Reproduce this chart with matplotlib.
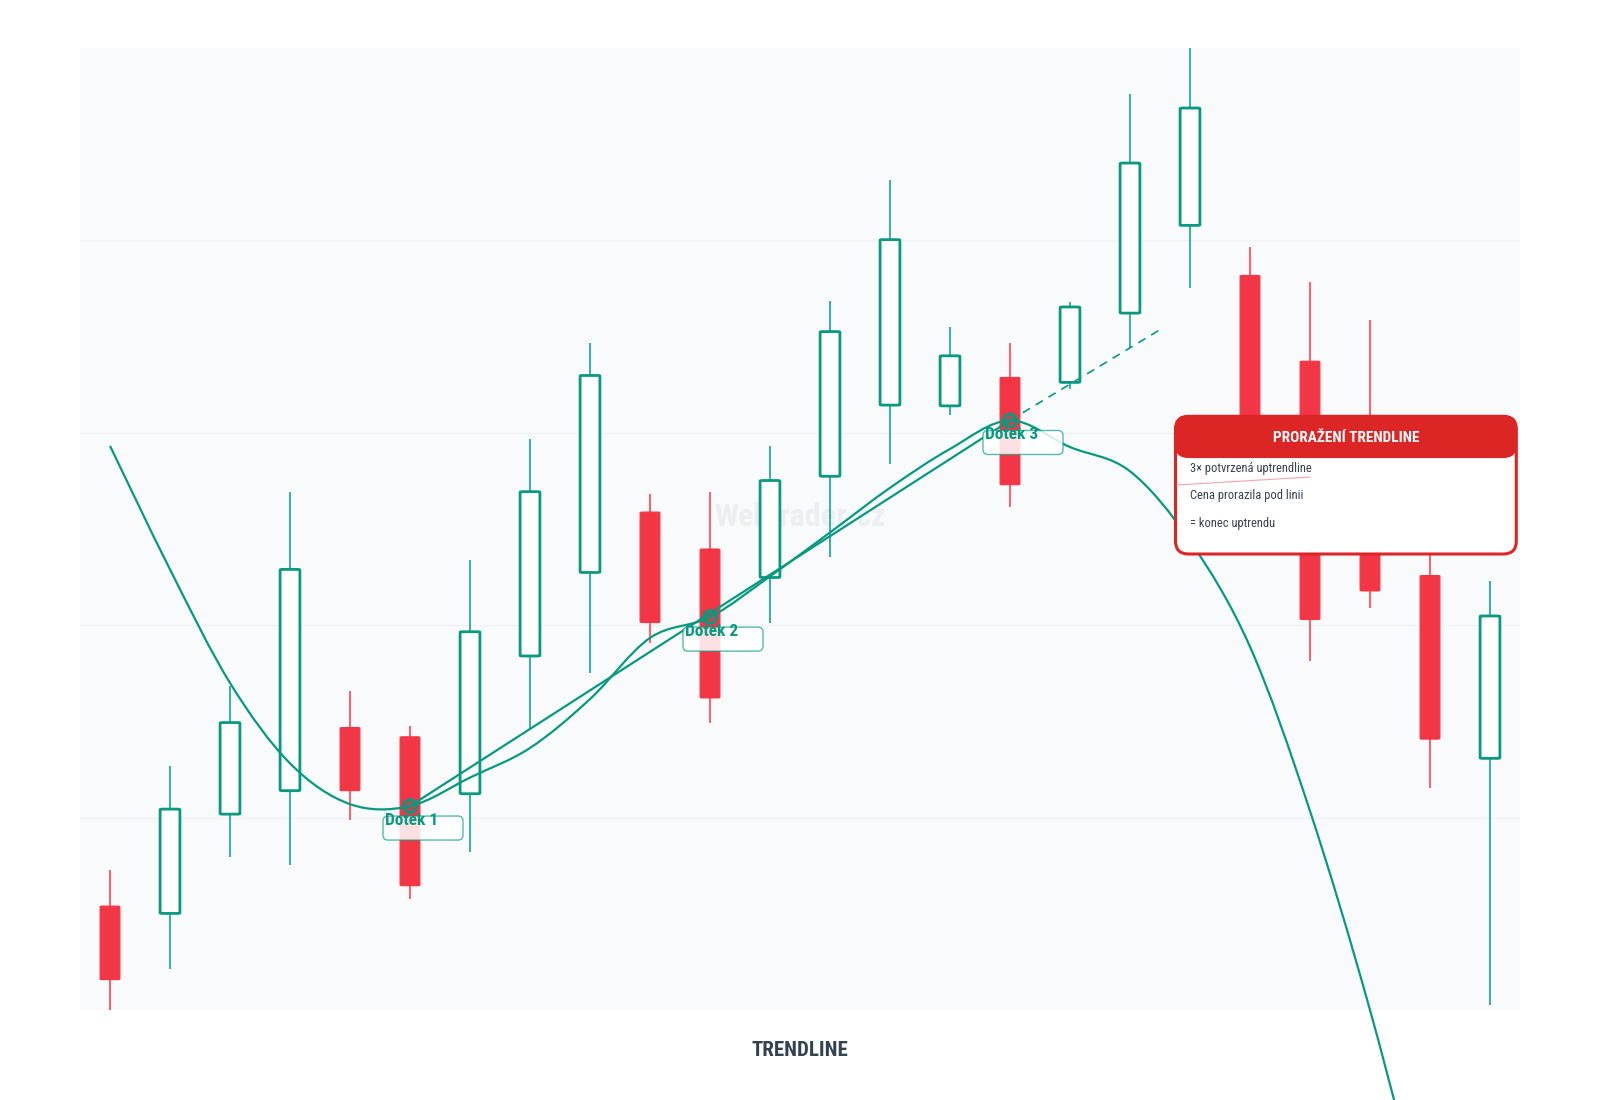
import matplotlib
matplotlib.use("Agg")
import matplotlib.pyplot as plt
from matplotlib import font_manager
from matplotlib.patches import FancyBboxPatch, Circle
from matplotlib.path import Path
from matplotlib.patches import PathPatch
from matplotlib.transforms import IdentityTransform

# --- data ---
idx = list(range(24))
opens = [102.70, 102.51, 105.09, 105.70, 107.34, 107.10, 105.62, 109.20, 111.37, 112.94,
         111.98, 111.24, 113.87, 115.72, 115.70, 116.44, 116.31, 118.11, 120.39, 119.09,
         116.86, 113.50, 111.29, 106.54]
highs = [103.63, 106.33, 108.43, 113.47, 108.30, 107.37, 111.69, 114.85, 117.34, 113.41,
         113.47, 114.66, 118.43, 121.56, 117.76, 117.34, 118.40, 123.81, 125.60, 119.84,
         118.93, 117.93, 112.90, 111.15]
lows = [100.00, 101.06, 103.97, 103.76, 104.95, 102.89, 104.11, 107.29, 108.77, 109.54,
        107.47, 110.05, 111.77, 114.18, 115.46, 113.07, 116.15, 117.21, 118.77, 112.40,
        109.06, 110.44, 105.76, 100.13]
closes = [100.79, 105.22, 107.47, 111.45, 105.70, 103.23, 109.83, 113.47, 116.49, 110.07,
          108.11, 113.76, 117.63, 120.02, 117.00, 113.65, 118.27, 122.01, 123.44, 113.20,
          110.15, 110.89, 107.04, 110.24]

# smooth curve control points
curve_x = list(range(23))
curve_y = [114.66, 111.45, 108.50, 106.41, 105.35, 105.30, 106.04, 106.81, 108.08, 109.67,
           110.21, 111.27, 112.41, 113.57, 114.58, 115.32, 114.63, 114.00, 112.19, 109.44,
           105.17, 100.00, 94.03]

touch_x = [5, 10, 15]
touch_y = [105.30, 110.21, 115.32]
touch_labels = ["Dotek 1", "Dotek 2", "Dotek 3"]
ext_x, ext_y = 17.5, 117.68

callout_title = "PRORAŽENÍ TRENDLINE"
callout_lines = ["3× potvrzená uptrendline", "Cena prorazila pod linii", "= konec uptrendu"]

GREEN = "#089981"
RED = "#f23645"
BOXRED = "#dc2626"
TEXT = "#374151"

# pick the narrowest font that is installed
entries = font_manager.fontManager.ttflist
names = {f.name for f in entries}
FONT, STRETCH = "DejaVu Sans", "condensed"
for cand in ["Roboto Condensed", "Noto Sans ExtraCondensed", "Noto Sans Condensed",
             "Open Sans Condensed", "Liberation Sans Narrow"]:
    if cand in names:
        FONT, STRETCH = cand, "normal"
        break
else:
    for f in entries:
        if f.name in ("Noto Sans", "Roboto", "Open Sans") and f.stretch in ("extra-condensed", "condensed"):
            FONT, STRETCH = f.name, f.stretch
            break
plt.rcParams["font.family"] = [FONT, "DejaVu Sans"]

fig = plt.figure(figsize=(16, 11), dpi=100)
ax = fig.add_axes([0.05, 1 - 1010 / 1100, 0.90, 962 / 1100])
ax.set_facecolor("#f8fafc")
ax.set_xlim(-0.5, 23.5)
ax.set_ylim(100, 125)
ax.set_yticks([105, 110, 115, 120])
ax.set_xticks([])
ax.tick_params(left=False, labelleft=False)
ax.grid(axis="y", color="#eef2f6", lw=1)
ax.set_axisbelow(True)
for s in ax.spines.values():
    s.set_visible(False)

# candles
bw = 0.33
for i, o, h, l, c in zip(idx, opens, highs, lows, closes):
    up = c >= o
    col = GREEN if up else RED
    ax.plot([i, i], [l, h], color=col, lw=1.5, alpha=0.75, zorder=2, solid_capstyle="butt")
    lo, hi = min(o, c), max(o, c)
    body = FancyBboxPatch((i - bw / 2, lo), bw, hi - lo,
                          boxstyle="round,pad=0,rounding_size=0.04", mutation_aspect=0.4,
                          facecolor="white" if up else RED,
                          edgecolor=col, lw=2 if up else 0.8, zorder=3)
    ax.add_patch(body)

# smooth curve (catmull-rom rendered as bezier path)
pts = list(zip(curve_x, curve_y))
verts = [pts[0]]
codes = [Path.MOVETO]
for k in range(len(pts) - 1):
    p0 = pts[k - 1] if k > 0 else pts[k]
    p1, p2 = pts[k], pts[k + 1]
    p3 = pts[k + 2] if k + 2 < len(pts) else pts[k + 1]
    c1 = (p1[0] + (p2[0] - p0[0]) / 6, p1[1] + (p2[1] - p0[1]) / 6)
    c2 = (p2[0] - (p3[0] - p1[0]) / 6, p2[1] - (p3[1] - p1[1]) / 6)
    verts += [c1, c2, p2]
    codes += [Path.CURVE4] * 3
ax.add_patch(PathPatch(Path(verts, codes), facecolor="none", edgecolor=GREEN,
                       lw=1.6, zorder=5, clip_on=False))

# trendline
ax.plot([touch_x[0], touch_x[-1]], [touch_y[0], touch_y[-1]], color=GREEN, lw=1.6, zorder=5)
ax.plot([touch_x[-1], ext_x], [touch_y[-1], ext_y], color=GREEN, lw=1.2, ls=(0, (5, 4)), zorder=5)

fig.canvas.draw()
ID = IdentityTransform()


def px(x, y):
    # data -> display pixels
    return ax.transData.transform((x, y))


for tx, ty, lab in zip(touch_x, touch_y, touch_labels):
    X, Y = px(tx, ty)
    fig.patches.append(Circle((X, Y), 6.5, transform=ID, facecolor=GREEN + "40",
                              edgecolor=GREEN, lw=2, zorder=6))
    fig.patches.append(FancyBboxPatch((X - 27, Y - 34), 80, 24, transform=ID,
                                      boxstyle="round,pad=0,rounding_size=5",
                                      facecolor=(1, 1, 1, 0.85), edgecolor=GREEN + "aa",
                                      lw=1, zorder=7))
    fig.text((X - 25) / 1600, (Y - 14) / 1100, lab, color=GREEN, fontsize=12.5,
             fontweight="bold", fontstretch=STRETCH, va="center", ha="left", zorder=8)

# watermark
ax.text(0.5, 0.512, "Webtrader.cz", transform=ax.transAxes, ha="center", va="center",
        fontsize=23, fontweight="bold", fontstretch=STRETCH, color="#e5e7eb", alpha=0.6, zorder=1)

# callout box (pixel coords from top-left)
H = 1100
bx0, bx1, by0, by1, hy = 1175.5, 1516.3, 416.3, 554.0, 457.0
fig.patches.append(FancyBboxPatch((bx0, H - by1), bx1 - bx0, by1 - by0, transform=ID,
                                  boxstyle="round,pad=0,rounding_size=13",
                                  facecolor="white", edgecolor=BOXRED, lw=2.2, zorder=20))
fig.patches.append(FancyBboxPatch((bx0, H - hy), bx1 - bx0, hy - by0, transform=ID,
                                  boxstyle="round,pad=0,rounding_size=13",
                                  facecolor=BOXRED, edgecolor=BOXRED, lw=1.5, zorder=21))
fig.lines.append(plt.Line2D([1177 / 1600, 1310 / 1600], [1 - 485 / H, 1 - 477 / H],
                            transform=fig.transFigure, color="#f4a3aa", lw=0.8, zorder=22))
fig.text((bx0 + bx1) / 2 / 1600, 1 - 438.5 / H, callout_title, color="white", fontsize=11,
         fontweight="bold", fontstretch=STRETCH, ha="center", va="center", zorder=23)
for k, line in enumerate(callout_lines):
    fig.text(1190 / 1600, 1 - (468.5 + 27.5 * k) / H, line, color=TEXT, fontsize=9,
             fontstretch=STRETCH, ha="left", va="center", zorder=23)

fig.text(0.5, 1 - 1050 / H, "TRENDLINE", color="#334155", fontsize=15, fontweight="bold",
         fontstretch=STRETCH, ha="center", va="center")

fig.savefig("out.png", dpi=100, facecolor="white")
